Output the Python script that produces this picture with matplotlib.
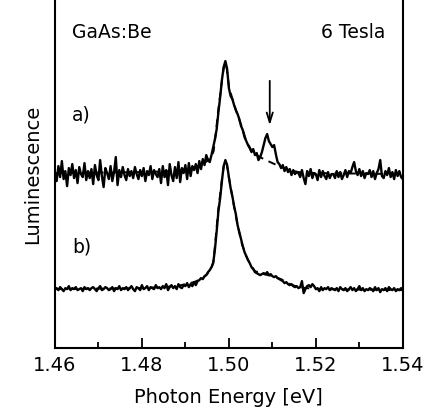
import numpy as np
import matplotlib
matplotlib.use('Agg')
import matplotlib.pyplot as plt

# photon energy grid of the measured spectra (0.4 meV steps)
energy = np.linspace(1.46, 1.54, 201)

# spectrum a) -- luminescence, arbitrary units
lum_a = [
    175, 167, 182, 171, 187, 169, 177, 162, 180, 173, 184, 170, 178, 165, 181, 174, 171, 185, 168, 177,
    170, 179, 164, 183, 173, 168, 188, 172, 161, 180, 175, 169, 182, 167, 176, 191, 163, 178, 171, 181,
    173, 168, 179, 172, 177, 170, 181, 174, 169, 178, 172, 180, 167, 177, 173, 182, 169, 178, 174, 171,
    179, 165, 182, 171, 178, 163, 184, 173, 167, 181, 170, 186, 166, 180, 175, 183, 169, 185, 172, 182,
    178, 184, 175, 187, 179, 189, 183, 193, 188, 186, 193, 201, 209, 219, 236, 251, 268, 281, 287, 279,
    260, 252, 249, 243, 238, 234, 229, 222, 218, 211, 207, 203, 200, 196, 199, 193, 195, 188, 191, 196,
    203, 210, 214, 207, 204, 201, 203, 194, 186, 184, 180, 183, 177, 181, 176, 179, 173, 178, 174, 176,
    175, 171, 178, 170, 164, 177, 172, 179, 170, 175, 174, 168, 178, 171, 177, 172, 169, 176, 170, 174,
    174, 170, 177, 171, 176, 169, 173, 178, 171, 177, 175, 181, 186, 177, 173, 179, 172, 177, 170, 175,
    174, 178, 171, 177, 169, 175, 179, 188, 172, 170, 177, 173, 180, 171, 176, 169, 178, 172, 177, 171,
    169,
]

# spectrum b)
lum_b = [
    59, 60, 58, 61, 59, 57, 60, 59, 62, 58, 60, 59, 61, 58, 59, 60, 57, 61, 59, 60,
    58, 60, 61, 59, 57, 60, 62, 58, 59, 61, 60, 58, 59, 61, 57, 60, 59, 62, 58, 60,
    59, 61, 58, 60, 62, 59, 57, 61, 60, 58, 63, 59, 60, 62, 58, 61, 60, 59, 63, 60,
    61, 59, 62, 60, 64, 58, 61, 63, 60, 62, 59, 64, 61, 60, 63, 62, 65, 61, 64, 62,
    66, 63, 67, 68, 70, 69, 72, 73, 76, 78, 81, 85, 99, 117, 137, 150, 167, 182, 188, 183,
    171, 160, 152, 142, 134, 123, 116, 109, 102, 96, 92, 88, 85, 81, 79, 76, 75, 74, 73, 74,
    75, 74, 76, 73, 74, 72, 71, 72, 70, 69, 68, 67, 65, 66, 64, 63, 64, 62, 61, 62,
    60, 61, 67, 55, 59, 62, 63, 61, 64, 62, 59, 60, 57, 61, 58, 60, 59, 61, 58, 60,
    59, 58, 60, 57, 61, 59, 58, 60, 57, 59, 61, 58, 60, 57, 59, 62, 58, 60, 57, 59,
    58, 60, 59, 57, 61, 58, 60, 56, 59, 58, 60, 57, 61, 59, 58, 60, 57, 59, 58, 60,
    58,
]

# fitted line shapes (dashed)
fit_energy = [1.46, 1.48, 1.488, 1.492, 1.494, 1.495, 1.496, 1.4965, 1.497, 1.4975,
              1.498, 1.4985, 1.499, 1.4995, 1.500, 1.501, 1.502, 1.503, 1.504, 1.505,
              1.506, 1.508, 1.510, 1.512, 1.514, 1.516, 1.520, 1.540]
fit_a = [175, 176, 177, 181, 184, 187, 191, 197, 215, 236,
         253, 271, 285, 280, 262, 246, 233, 221, 207, 199,
         194, 189, 185, 181, 178, 176, 175, 174]
fit_b = [59, 60, 62, 66, 70, 74, 80, 88, 112, 136,
         154, 172, 187, 184, 171, 146, 123, 104, 92, 83,
         77, 74, 72, 69, 64, 61, 59, 58]

# arrow marking the second line in a)
arrow_x = 1.5094
arrow_tail, arrow_head = 270, 220

fig = plt.figure(figsize=(4.29, 4.13), dpi=100)
ax = fig.add_axes([0.128, 0.157, 0.811, 0.843])

ax.plot(fit_energy, fit_a, color='black', lw=1.4, ls=(0, (4, 3)))
ax.plot(fit_energy, fit_b, color='black', lw=1.4, ls=(0, (4, 3)))
ax.plot(energy, lum_a, color='black', lw=1.7)
ax.plot(energy, lum_b, color='black', lw=1.7)

ax.annotate('', xy=(arrow_x, arrow_head), xytext=(arrow_x, arrow_tail),
            arrowprops=dict(arrowstyle='->,head_length=0.7,head_width=0.22',
                            color='black', lw=1.3))

ax.text(0.05, 0.89, 'GaAs:Be', transform=ax.transAxes, fontsize=13.5)
ax.text(0.95, 0.89, '6 Tesla', transform=ax.transAxes, fontsize=13.5, ha='right')
ax.text(0.05, 0.655, 'a)', transform=ax.transAxes, fontsize=13.5)
ax.text(0.05, 0.275, 'b)', transform=ax.transAxes, fontsize=13.5)

ax.set_xlim(1.46, 1.54)
ax.set_ylim(0, 348)
ax.set_xticks([1.46, 1.48, 1.50, 1.52, 1.54])
ax.set_xticks([1.47, 1.49, 1.51, 1.53], minor=True)
ax.set_xticklabels(['1.46', '1.48', '1.50', '1.52', '1.54'])
ax.set_yticks([])
ax.tick_params(axis='x', which='major', direction='in', length=7, width=1.3,
               labelsize=14, pad=6)
ax.tick_params(axis='x', which='minor', direction='in', length=4, width=1.3)
ax.spines['top'].set_visible(False)
for s in ['left', 'right', 'bottom']:
    ax.spines[s].set_linewidth(1.5)

ax.set_xlabel('Photon Energy [eV]', fontsize=14, labelpad=9)
ax.set_ylabel('Luminescence', fontsize=14, labelpad=9)

fig.savefig('out.png', dpi=100)
